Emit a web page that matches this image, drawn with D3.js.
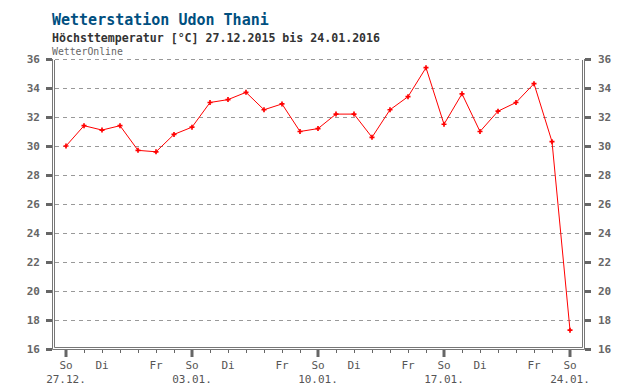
<!DOCTYPE html>
<html><head><meta charset="utf-8">
<script src="https://cdn.jsdelivr.net/npm/d3@7"></script>
<style>
body{margin:0;background:#fff;}
svg{display:block;}
text{font-family:"DejaVu Sans Mono","Liberation Mono",monospace;}
</style></head>
<body><svg id="c" width="640" height="390"></svg>
<script>
const dates = ["27.12.","28.12.","29.12.","30.12.","31.12.","01.01.","02.01.","03.01.","04.01.","05.01.","06.01.","07.01.","08.01.","09.01.","10.01.","11.01.","12.01.","13.01.","14.01.","15.01.","16.01.","17.01.","18.01.","19.01.","20.01.","21.01.","22.01.","23.01.","24.01."];
const weekdays = ["So","Mo","Di","Mi","Do","Fr","Sa","So","Mo","Di","Mi","Do","Fr","Sa","So","Mo","Di","Mi","Do","Fr","Sa","So","Mo","Di","Mi","Do","Fr","Sa","So"];
const labeledDays = ["So","Di","Fr"];
const tmax = [30.0,31.4,31.1,31.4,29.7,29.6,30.8,31.3,33.0,33.2,33.7,32.5,32.9,31.0,31.2,32.2,32.2,30.6,32.5,33.4,35.4,31.5,33.6,31.0,32.4,33.0,34.3,30.3,17.3];
const yTicks = [16,18,20,22,24,26,28,30,32,34,36];
const gridTicks = [18,20,22,24,26,28,30,32,34,36];

const svg = d3.select("#c");
const idx = d3.range(dates.length);
const x = d3.scaleLinear().domain([0, dates.length-1]).range([66,570]);
const y = d3.scaleLinear().domain([16,36]).range([349,59]);
const L = 53, R = 583;

// titles
svg.append("text").attr("x",52).attr("y",25).attr("fill","#004f80")
  .style("font-size","15px").style("font-weight","bold").text("Wetterstation Udon Thani");
svg.append("text").attr("x",52).attr("y",41.5).attr("fill","#333")
  .style("font-size","11.6px").style("font-weight","bold").text("Höchsttemperatur [°C] 27.12.2015 bis 24.01.2016");
svg.append("text").attr("x",52).attr("y",55).attr("fill","#666")
  .style("font-size","9.8px").text("WetterOnline");

// grid
svg.append("g").selectAll("line").data(gridTicks).join("line")
  .attr("x1",L+2).attr("x2",R-1).attr("y1",d=>Math.round(y(d))+0.5).attr("y2",d=>Math.round(y(d))+0.5)
  .attr("stroke","#999").attr("stroke-dasharray","4,4");

// frame (double lines)
const fr = svg.append("g").attr("stroke","#777").attr("fill","none");
fr.append("path").attr("d",`M${L-0.5},${y(36)}V${y(16)+0.5}H${R+1.5}V${y(36)}`);
fr.append("path").attr("d",`M${L+1.5},${y(36)+1}V${y(16)-1.5}H${R-0.5}V${y(36)+1}`);

// y axes
function styleAxis(g){
  g.select(".domain").remove();
  g.selectAll(".tick line").attr("stroke","#666").attr("stroke-width",3);
  g.selectAll(".tick text").attr("fill","#666").style("font-size","11px").style("font-weight","bold")
    .style("font-family",'"DejaVu Sans Mono",monospace');
}
svg.append("g").attr("transform",`translate(${L-1},0)`)
  .call(d3.axisLeft(y).tickValues(yTicks).tickSize(6).tickPadding(6).tickFormat(d3.format("d")))
  .call(styleAxis);
svg.append("g").attr("transform",`translate(${R+2},0)`)
  .call(d3.axisRight(y).tickValues(yTicks).tickSize(6).tickPadding(7).tickFormat(d3.format("d")))
  .call(styleAxis);

// x axis small ticks
const xa = svg.append("g").attr("transform",`translate(0,${y(16)+1})`)
  .call(d3.axisBottom(x).tickValues(idx).tickSize(3).tickFormat(""));
xa.select(".domain").remove();
xa.selectAll(".tick line").attr("stroke","#666");
// Sunday big ticks
svg.append("g").selectAll("line").data(idx.filter(i=>weekdays[i]==="So")).join("line")
  .attr("x1",d=>x(d)).attr("x2",d=>x(d)).attr("y1",y(16)+1).attr("y2",y(16)+8)
  .attr("stroke","#666").attr("stroke-width",3);
// weekday labels
svg.append("g").selectAll("text").data(idx.filter(i=>labeledDays.includes(weekdays[i]))).join("text")
  .attr("x",d=>x(d)).attr("y",369).attr("text-anchor","middle").attr("fill","#555")
  .style("font-size","11px").text(d=>weekdays[d]);
svg.append("g").selectAll("text").data(idx.filter(i=>weekdays[i]==="So")).join("text")
  .attr("x",d=>x(d)).attr("y",383).attr("text-anchor","middle").attr("fill","#555")
  .style("font-size","11px").text(d=>dates[d]);

// line
svg.append("path").datum(idx).attr("fill","none").attr("stroke","#ff0000").attr("stroke-width",1)
  .attr("d",d3.line().x(i=>x(i)).y(i=>y(tmax[i])));
svg.append("g").selectAll("path").data(idx).join("path")
  .attr("transform",i=>`translate(${x(i)},${y(tmax[i])})`)
  .attr("d",d3.symbol(d3.symbolCross,14)).attr("fill","#ff0000");
</script></body></html>
